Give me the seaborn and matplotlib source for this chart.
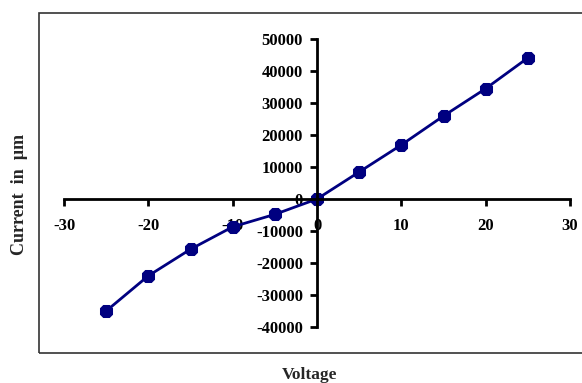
import matplotlib
matplotlib.use("Agg")
import matplotlib.pyplot as plt
import seaborn as sns
import pandas as pd
from matplotlib.patches import Rectangle

# I-V measurement
voltage = [-25, -20, -15, -10, -5, 0, 5, 10, 15, 20, 25]
current = [-35000, -24000, -15700, -8700, -4800, 0, 8450, 16900, 25950, 34500, 44100]

x_ticks = [-30, -20, -10, 0, 10, 20, 30]
y_ticks = [-40000, -30000, -20000, -10000, 0, 10000, 20000, 30000, 40000, 50000]

df = pd.DataFrame({"Voltage": voltage, "Current": current})

sns.set_style("white")
plt.rcParams["font.family"] = ["Liberation Serif", "DejaVu Serif"]
plt.rcParams["font.weight"] = "bold"

fig = plt.figure(figsize=(5.82, 3.83), dpi=100)

# outer chart frame (runs past the right edge of the canvas)
fig.patches.append(Rectangle((39 / 582, 30 / 383), 560 / 582, 340 / 383,
                             transform=fig.transFigure, fill=False,
                             edgecolor="#333333", linewidth=1.2))

ax = fig.add_axes([64 / 582, 56 / 383, 506 / 582, 288 / 383])
ax.set_facecolor("none")

sns.lineplot(data=df, x="Voltage", y="Current", ax=ax, color="#000080",
             linewidth=2, marker="8", markersize=10, markeredgecolor="#000080")

ax.set_xlim(-30, 30)
ax.set_ylim(-40000, 50000)
ax.set_xticks(x_ticks)
ax.set_yticks(y_ticks)
ax.set_xticklabels([str(v) for v in x_ticks])
ax.set_yticklabels([str(v) for v in y_ticks])

for side in ("top", "right"):
    ax.spines[side].set_visible(False)
ax.spines["left"].set_position(("data", 0))
ax.spines["bottom"].set_position(("data", 0))
for side in ("left", "bottom"):
    ax.spines[side].set_color("black")
    ax.spines[side].set_linewidth(2)

ax.tick_params(axis="x", bottom=True, direction="out", length=5, width=2, pad=9,
               labelsize=12, colors="black")
ax.tick_params(axis="y", left=True, direction="out", length=5, width=2, pad=5,
               labelsize=12, colors="black")
for lbl in ax.get_xticklabels() + ax.get_yticklabels():
    lbl.set_fontweight("bold")

ax.set_xlabel("")
ax.set_ylabel("")
fig.text(310 / 582, 1 - 375 / 383, "Voltage", ha="center", va="center",
         fontsize=12.5, fontweight="bold")
fig.text(20 / 582, 1 - 194 / 383, "Current  in  µm", ha="center", va="center",
         rotation=90, fontsize=13, fontweight="bold")

fig.savefig("out.png", dpi=100)
